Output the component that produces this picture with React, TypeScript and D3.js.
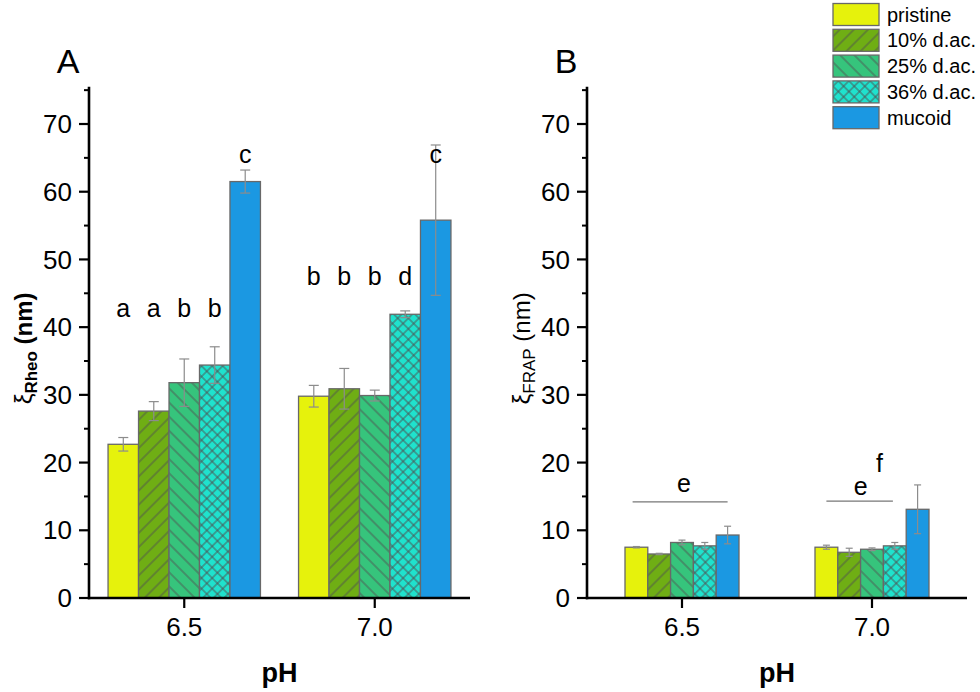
import * as React from "react";
import * as d3 from "d3";

// pH groups and sample series
const phLabels = ["6.5", "7.0"];
const seriesNames = ["pristine", "10% d.ac.", "25% d.ac.", "36% d.ac.", "mucoid"];
const seriesColors = ["#e6f20c", "#6fae14", "#36c47c", "#1fe2cd", "#1b98e2"];
const seriesFills = ["plain", "hatchUp", "hatchDown", "cross", "plain"];

// panel A: mesh size from rheology (nm)
const rheoMean65 = [22.7, 27.6, 31.8, 34.4, 61.5];
const rheoErr65 = [1.0, 1.4, 3.5, 2.7, 1.7];
const rheoMean70 = [29.8, 30.9, 29.9, 41.9, 55.8];
const rheoErr70 = [1.6, 3.0, 0.8, 0.5, 11.1];

// panel B: mesh size from FRAP (nm)
const frapMean65 = [7.5, 6.5, 8.2, 7.7, 9.3];
const frapErr65 = [0.1, 0.1, 0.35, 0.5, 1.3];
const frapMean70 = [7.5, 6.75, 7.2, 7.7, 13.1];
const frapErr70 = [0.3, 0.6, 0.2, 0.5, 3.6];

// significance letters for panel A
const rheoLetters65 = ["a", "a", "b", "b", "c"];
const rheoLetters70 = ["b", "b", "b", "d", "c"];
const rheoLetterLevel65 = [41.5, 41.5, 41.5, 41.5, 64.2];
const rheoLetterLevel70 = [46.2, 46.2, 46.2, 46.2, 64.2];

// significance groups for panel B (data coordinates)
const frapBrackets = [
  {x0: 0.74, x1: 1.24, y: 14.2, label: "e", lx: 1.01, ly: 15.6},
  {x0: 1.76, x1: 2.11, y: 14.3, label: "e", lx: 1.94, ly: 15.2},
];
const frapSingles = [{label: "f", lx: 2.04, ly: 18.6}];

const yMajor = d3.range(0, 71, 10);
const yMinor = d3.range(5, 76, 10);

const FONT = "'Liberation Sans', Arial, Helvetica, sans-serif";
const Y_TOP = 598;
const Y_MAX = 75.5;

function Panel({left, right, letter, means, errs, barFrac, capHalf, sub, bold, children}) {
  const x = d3.scaleLinear().domain([0.5, 2.5]).range([left, right]);
  const y = d3.scaleLinear().domain([0, Y_MAX]).range([Y_TOP, Y_TOP - Y_MAX * 6.7714]);
  const bw = barFrac / 5;
  const fillFor = (i) => seriesFills[i] === "plain" ? seriesColors[i] : `url(#${seriesFills[i]})`;
  const center = (g, i) => x(g + 1 - barFrac / 2 + bw * (i + 0.5));
  const yMid = (y(0) + y(Y_MAX)) / 2 + 6;

  return (
    <g>
      {means.map((vals, g) => vals.map((v, i) => (
        <rect key={`b${g}-${i}`}
              x={x(g + 1 - barFrac / 2 + bw * i)}
              width={x(bw) - x(0)}
              y={y(v)} height={y(0) - y(v)}
              fill={fillFor(i)} stroke="#686868" strokeWidth={1.3}/>
      )))}
      {means.map((vals, g) => vals.map((v, i) => {
        const cx = center(g, i);
        const e = errs[g][i];
        return (
          <g key={`e${g}-${i}`} stroke="#8c8c8c" strokeWidth={1.2}>
            <line x1={cx} x2={cx} y1={y(v - e)} y2={y(v + e)}/>
            <line x1={cx - capHalf} x2={cx + capHalf} y1={y(v + e)} y2={y(v + e)}/>
            <line x1={cx - capHalf} x2={cx + capHalf} y1={y(v - e)} y2={y(v - e)}/>
          </g>
        );
      }))}
      {children && children(x, y, center)}

      {/* axes */}
      <line x1={left} x2={left} y1={y(0) + 1.2} y2={y(Y_MAX)} stroke="#000" strokeWidth={2.6}/>
      <line x1={left - 1.2} x2={right} y1={y(0)} y2={y(0)} stroke="#000" strokeWidth={2.6}/>
      {yMajor.map(t => (
        <g key={`yt${t}`}>
          <line x1={left - 10} x2={left} y1={y(t)} y2={y(t)} stroke="#000" strokeWidth={2.2}/>
          <text x={left - 17} y={y(t)} dy="0.35em" textAnchor="end" fontSize={26} fontFamily={FONT}>{t}</text>
        </g>
      ))}
      {yMinor.map(t => (
        <line key={`ym${t}`} x1={left - 5} x2={left} y1={y(t)} y2={y(t)} stroke="#000" strokeWidth={2}/>
      ))}
      {phLabels.map((p, g) => (
        <g key={`xt${p}`}>
          <line x1={x(g + 1)} x2={x(g + 1)} y1={y(0)} y2={y(0) + 10} stroke="#000" strokeWidth={2.2}/>
          <text x={x(g + 1)} y={y(0) + 38} textAnchor="middle" fontSize={26} fontFamily={FONT}>{p}</text>
        </g>
      ))}
      <text x={(left + right) / 2} y={682} textAnchor="middle" fontSize={27} fontWeight="bold" fontFamily={FONT}>pH</text>
      <text x={left - 21} y={73} textAnchor="middle" fontSize={34} fontFamily={FONT}>{letter}</text>
      <text transform={`translate(${left - 57},${yMid}) rotate(-90)`} textAnchor="middle" fontFamily={FONT} fontSize={24}>
        <tspan fontWeight="normal">ξ</tspan>
        <tspan fontSize={17} dy={5} fontWeight={bold ? "bold" : "normal"}>{sub}</tspan>
        <tspan dy={-5} fontWeight={bold ? "bold" : "normal"}>{" (nm)"}</tspan>
      </text>
    </g>
  );
}

function Legend() {
  return (
    <g>
      {seriesNames.map((s, i) => (
        <g key={s} transform={`translate(833,${3.5 + i * 25.8})`}>
          <rect width={46} height={22} fill={seriesFills[i] === "plain" ? seriesColors[i] : `url(#${seriesFills[i]})`}
                stroke="#686868" strokeWidth={1.3}/>
          <text x={54} y={18} fontSize={20} fontFamily={FONT}>{s}</text>
        </g>
      ))}
    </g>
  );
}

export default function App() {
  const hatchLine = "#4f4f4f";
  return (
    <svg width={980} height={692} style={{position: "absolute", left: 0, top: 0, background: "#fff"}}>
      <defs>
        <pattern id="hatchUp" patternUnits="userSpaceOnUse" width={10} height={10} patternTransform="rotate(45)">
          <rect width={10} height={10} fill={seriesColors[1]}/>
          <line x1={5} x2={5} y1={0} y2={10} stroke={hatchLine} strokeWidth={0.9}/>
        </pattern>
        <pattern id="hatchDown" patternUnits="userSpaceOnUse" width={10} height={10} patternTransform="rotate(-45)">
          <rect width={10} height={10} fill={seriesColors[2]}/>
          <line x1={5} x2={5} y1={0} y2={10} stroke={hatchLine} strokeWidth={0.9}/>
        </pattern>
        <pattern id="cross" patternUnits="userSpaceOnUse" width={7.5} height={7.5} patternTransform="rotate(45)">
          <rect width={7.5} height={7.5} fill={seriesColors[3]}/>
          <line x1={3.75} x2={3.75} y1={0} y2={7.5} stroke={hatchLine} strokeWidth={0.9}/>
          <line x1={0} x2={7.5} y1={3.75} y2={3.75} stroke={hatchLine} strokeWidth={0.9}/>
        </pattern>
      </defs>
      <rect width={980} height={692} fill="#fff"/>

      <Panel left={89} right={470} letter="A" means={[rheoMean65, rheoMean70]} errs={[rheoErr65, rheoErr70]}
             barFrac={0.8} capHalf={5} sub="Rheo" bold={true}>
        {(x, y, center) => [rheoLetters65, rheoLetters70].map((ls, g) => ls.map((l, i) => (
          <text key={`l${g}-${i}`} x={center(g, i)}
                y={y(g === 0 ? rheoLetterLevel65[i] : rheoLetterLevel70[i])}
                textAnchor="middle" fontSize={25} fontFamily={FONT}>{l}</text>
        )))}
      </Panel>

      <Panel left={587} right={967} letter="B" means={[frapMean65, frapMean70]} errs={[frapErr65, frapErr70]}
             barFrac={0.6} capHalf={3.5} sub="FRAP" bold={false}>
        {(x, y) => (
          <g>
            {frapBrackets.map((b, k) => (
              <g key={`br${k}`}>
                <line x1={x(b.x0)} x2={x(b.x1)} y1={y(b.y)} y2={y(b.y)} stroke="#777" strokeWidth={1.2}/>
                <text x={x(b.lx)} y={y(b.ly)} textAnchor="middle" fontSize={25} fontFamily={FONT}>{b.label}</text>
              </g>
            ))}
            {frapSingles.map((s, k) => (
              <text key={`s${k}`} x={x(s.lx)} y={y(s.ly)} textAnchor="middle" fontSize={25} fontFamily={FONT}>{s.label}</text>
            ))}
          </g>
        )}
      </Panel>

      <Legend/>
    </svg>
  );
}
